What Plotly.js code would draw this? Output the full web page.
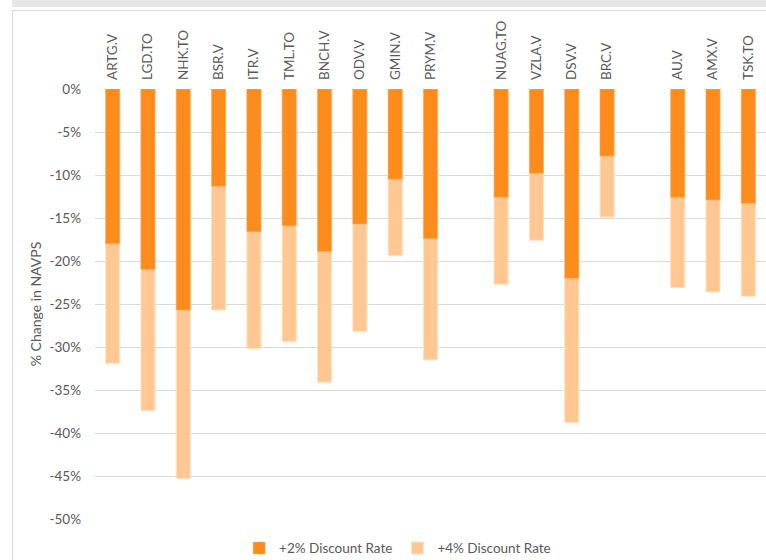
<!DOCTYPE html>
<html>
<head>
<meta charset="utf-8">
<script src="https://cdn.plot.ly/plotly-3.0.1.min.js"></script>
<style>
  html, body { margin: 0; padding: 0; width: 766px; height: 560px; overflow: hidden; background: #ffffff; }
  #band { position: absolute; left: 12px; top: 0; width: 754px; height: 7px; background: #e7e7e7; }
  #frame { position: absolute; left: 12px; top: 10px; width: 760px; height: 560px; border-left: 1px solid #dadada; border-top: 1px solid #dadada; }
  #chart { position: absolute; left: 0; top: 0; width: 766px; height: 560px; }
</style>
</head>
<body>
<div id="band"></div>
<div id="frame"></div>
<div id="chart"></div>
<script>
// Categories (blank entries are the empty slots between groups)
const tickers = ['ARTG.V','LGD.TO','NHK.TO','BSR.V','ITR.V','TML.TO','BNCH.V','ODV.V','GMIN.V','PRYM.V',
                 ' ','NUAG.TO','VZLA.V','DSV.V','BRC.V','  ','AU.V','AMX.V','TSK.TO'];
// % change in NAVPS at +2% discount rate
const rate2 = [-0.180,-0.210,-0.257,-0.113,-0.166,-0.159,-0.189,-0.157,-0.105,-0.174,
               null,-0.126,-0.098,-0.220,-0.078,null,-0.126,-0.129,-0.133];
// % change in NAVPS at +4% discount rate
const rate4 = [-0.319,-0.374,-0.453,-0.257,-0.302,-0.294,-0.341,-0.282,-0.194,-0.315,
               null,-0.227,-0.176,-0.388,-0.149,null,-0.231,-0.236,-0.241];
const yTickVals = [0,-0.05,-0.10,-0.15,-0.20,-0.25,-0.30,-0.35,-0.40,-0.45,-0.50];
const yTickText = ['0%','-5%','-10%','-15%','-20%','-25%','-30%','-35%','-40%','-45%','-50%'];

const FONT = 'Lato, "Open Sans", sans-serif';
const traces = [
  { type: 'bar', name: '+4% Discount Rate', x: tickers, y: rate4, width: 0.4,
    marker: { color: '#ffc892', line: { color: '#ffe3c6', width: 1 } }, hoverinfo: 'x+y' },
  { type: 'bar', name: '+2% Discount Rate', x: tickers, y: rate2, width: 0.4,
    marker: { color: '#fd8c1c', line: { color: '#fdb06a', width: 0.5 } }, hoverinfo: 'x+y' }
];
const layout = {
  width: 766, height: 560,
  margin: { l: 95, r: 0, t: 89, b: 41, pad: 0, autoexpand: false },
  paper_bgcolor: 'rgba(0,0,0,0)', plot_bgcolor: 'rgba(0,0,0,0)',
  barmode: 'overlay',
  font: { family: FONT, size: 13.5, color: '#595959' },
  showlegend: true,
  legend: { orientation: 'h', x: 0.451, xanchor: 'center', yref: 'container', y: 0.021, yanchor: 'middle',
            traceorder: 'reversed', font: { family: FONT, size: 13.5, color: '#595959' },
            itemclick: false, itemdoubleclick: false, tracegroupgap: 0, itemwidth: 20 },
  xaxis: {
    type: 'category', side: 'top', tickangle: -90, range: [-0.5, 18.5],
    showgrid: false, zeroline: false, showline: false, ticks: '', ticklabelstandoff: 8,
    tickfont: { family: FONT, size: 13.5, color: '#595959' }, fixedrange: true
  },
  yaxis: {
    range: [-0.5, 0], tickvals: yTickVals, ticktext: yTickText,
    showgrid: true, gridcolor: '#d9d9d9', gridwidth: 1, zeroline: false, showline: false,
    ticks: '', ticklabelstandoff: 13,
    tickfont: { family: FONT, size: 13.5, color: '#595959' },
    title: { text: '% Change in NAVPS', font: { family: FONT, size: 14, color: '#595959' }, standoff: 4 },
    fixedrange: true
  }
};
Plotly.newPlot('chart', traces, layout, { displayModeBar: false, staticPlot: false });
</script>
</body>
</html>
